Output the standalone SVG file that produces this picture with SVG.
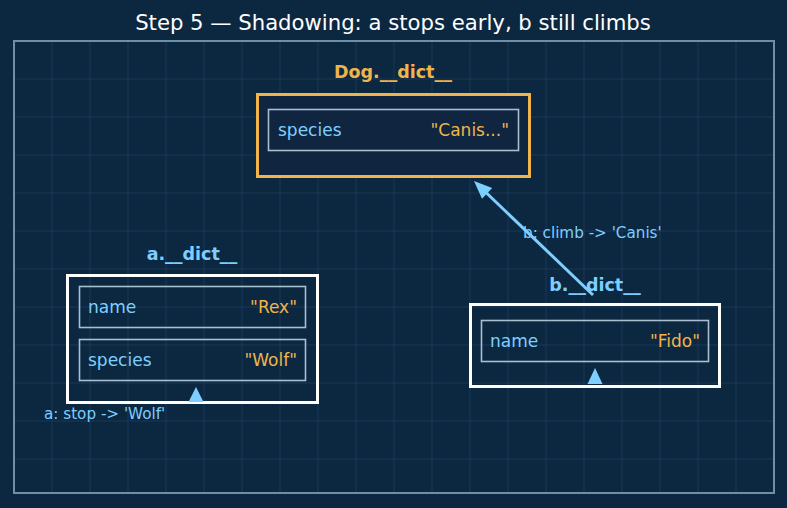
<svg xmlns="http://www.w3.org/2000/svg" width="787" height="508" viewBox="0 0 787 508">
<defs>
<style>
.t{font-family:"DejaVu Sans","Liberation Sans",sans-serif}
.title{font-size:21.2px;fill:#ffffff;text-anchor:middle}
.hd{font-size:17.5px;font-weight:bold;text-anchor:middle}
.key{font-size:17px;fill:#7ecfff}
.val{font-size:17px;fill:#f0b44a;text-anchor:end}
.lbl{font-size:15.2px;fill:#7ecfff}
.row{fill:none;stroke:#a9bfcf;stroke-width:1.6}
.grid{stroke:#18385a;stroke-width:1}
.ah{fill:#7ecfff}
</style>
</defs>
<rect width="787" height="508" fill="#0c2841"/>
<g id="grid" class="grid">
<path d="M52 41V493M90 41V493M128 41V493M166 41V493M204 41V493M242 41V493M280 41V493M318 41V493M356 41V493M394 41V493M432 41V493M470 41V493M508 41V493M546 41V493M584 41V493M622 41V493M660 41V493M698 41V493M736 41V493"/>
<path d="M14 79H774M14 117H774M14 155H774M14 193H774M14 231H774M14 269H774M14 307H774M14 345H774M14 383H774M14 421H774M14 459H774"/>
</g>
<rect x="14" y="41" width="760" height="452" fill="none" stroke="#6f8ea8" stroke-width="2"/>
<text class="t title" x="393" y="30">Step 5 — Shadowing: a stops early, b still climbs</text>

<g id="dog">
<text class="t hd" x="393" y="78" fill="#f0b44a">Dog.__dict__</text>
<rect x="257.5" y="94.5" width="272" height="82" fill="#10253f" stroke="#f0b44a" stroke-width="3"/>
<rect x="268.5" y="109.5" width="250" height="41" class="row"/>
<text class="t key" x="278" y="136">species</text>
<text class="t val" x="509" y="136">"Canis..."</text>
</g>

<g id="a">
<text class="t hd" x="192" y="260" fill="#7ecfff">a.__dict__</text>
<rect x="67.5" y="275.5" width="250" height="127" fill="none" stroke="#ffffff" stroke-width="3"/>
<rect x="79.5" y="286.5" width="226" height="41" class="row"/>
<text class="t key" x="88" y="313">name</text>
<text class="t val" x="297" y="313">"Rex"</text>
<rect x="79.5" y="339.5" width="226" height="41" class="row"/>
<text class="t key" x="88" y="366">species</text>
<text class="t val" x="297" y="366">"Wolf"</text>
</g>

<g id="b">
<text class="t hd" x="595" y="291" fill="#7ecfff">b.__dict__</text>
<rect x="470.5" y="304.5" width="249" height="82" fill="none" stroke="#ffffff" stroke-width="3"/>
<rect x="481.5" y="320.5" width="227" height="41" class="row"/>
<text class="t key" x="490" y="347">name</text>
<text class="t val" x="700" y="347">"Fido"</text>
</g>

<g id="connectors">
<line x1="593" y1="295" x2="486" y2="192.5" stroke="#7ecfff" stroke-width="3"/>
<path class="ah" d="M474 181 L492.2 188 L482 198.8 z"/>
<path class="ah" d="M196 387 L203.5 402 L188.5 402 z"/>
<path class="ah" d="M595 368 L602.5 384 L587.5 384 z"/>
<text class="t lbl" x="44" y="419">a: stop -&gt; 'Wolf'</text>
<text class="t lbl" x="523" y="238">b: climb -&gt; 'Canis'</text>
</g>
</svg>
